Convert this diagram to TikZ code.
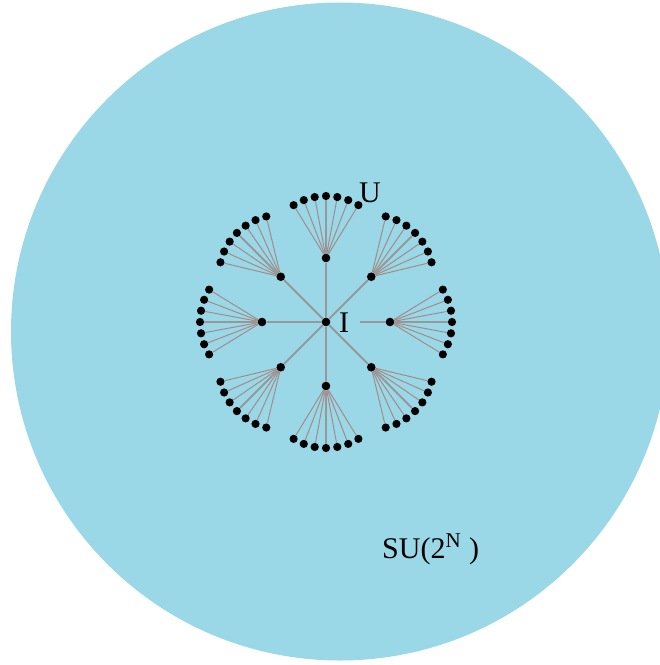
\documentclass[tikz,border=0pt]{standalone}
\usepackage{fontspec}
\setmainfont{Liberation Serif}
\definecolor{bgblue}{RGB}{154,216,232}
\definecolor{mainline}{RGB}{152,152,152}
\definecolor{fanline}{RGB}{163,140,135}
\begin{document}
\begin{tikzpicture}[x=1pt,y=-1pt,
  dot/.style={circle,fill=black,inner sep=0pt,minimum size=8.6pt},
  leaf/.style={circle,fill=black,inner sep=0pt,minimum size=8.2pt},
  trunk/.style={draw=mainline,line width=1.8pt},
  twig/.style={draw=fanline,line width=1pt},
  lbl/.style={font=\fontsize{30}{30}\selectfont,inner sep=0pt}]
\useasboundingbox (0,0) rectangle (660,665);
\fill[bgblue] (340,331.5) circle[radius=329];
% centre
\node[dot] (I) at (326,322) {};
\node[lbl,anchor=base west] (Ilab) at (339,332.5) {I};
\coordinate (Igap) at (360,322);
% branches
\foreach \a [count=\i] in {0,45,90,135,180,225,270,315}{
  \path (I) ++(\a:64) node[dot] (B\i) {};
  \foreach \k [count=\j] in {-3,-2,-1,0,1,2,3}{
    \path (B\i) ++(\a+10.5*\k:62) node[leaf] (L\i-\j) {};
  }
  \foreach \j in {1,2,3,5,6,7}{
    \draw[twig] (B\i) -- (L\i-\j);
  }
  \draw[trunk] (B\i) -- (L\i-4);
}
\foreach \i in {2,...,8}{
  \draw[trunk] (I) -- (B\i);
}
\draw[trunk] (Igap) -- (B1);
% labels
\node[lbl,anchor=base west] (Ulab) at (359,202.5) {U};
\node[lbl,anchor=base west] (SU) at (382,558) {SU(2\raisebox{11pt}{\fontsize{21}{21}\selectfont N}\hspace{1pt} )};
\end{tikzpicture}
\end{document}
